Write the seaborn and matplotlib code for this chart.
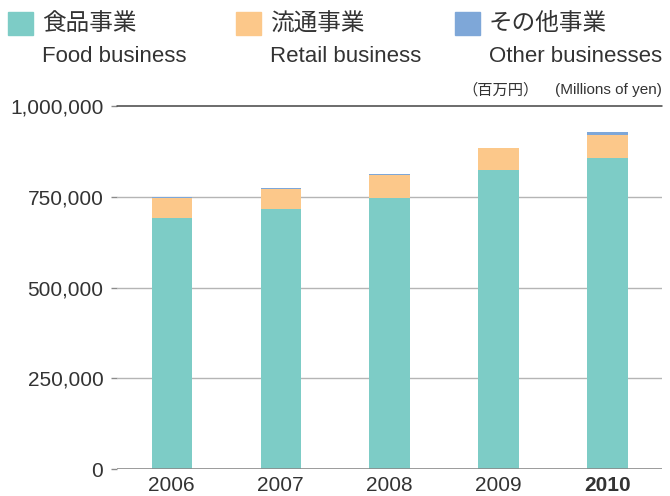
import matplotlib
matplotlib.use("Agg")
import matplotlib.pyplot as plt
import seaborn as sns
import numpy as np
import pandas as pd
from matplotlib.patches import Rectangle

# values in millions of yen
years = ["2006", "2007", "2008", "2009", "2010"]
food = [691000, 716000, 748000, 824000, 857000]
retail = [56000, 55000, 62000, 60000, 63000]
other = [2000, 3000, 4000, 1000, 8000]

legend_jp = ["食品事業", "流通事業", "その他事業"]
legend_en = ["Food business", "Retail business", "Other businesses"]
colors = ["#7dccc6", "#fcc88a", "#7ea7d8"]

sns.set_theme(style="white")
plt.rcParams["font.family"] = ["Liberation Sans", "Noto Sans CJK JP", "DejaVu Sans"]
txt = "#333333"

df = pd.DataFrame({"year": years, "food": food, "retail": retail, "other": other})
df["l1"] = df["food"]
df["l2"] = df["food"] + df["retail"]
df["l3"] = df["l2"] + df["other"]

fig = plt.figure(figsize=(6.7, 4.96), dpi=100)
ax = fig.add_axes([0.175, 0.0544, 0.813, 0.7316])

# stack by overlaying cumulative totals, tallest first
for col, c in zip(["l3", "l2", "l1"], colors[::-1]):
    sns.barplot(data=df, x="year", y=col, color=c, width=0.37,
                saturation=1, linewidth=0, ax=ax, zorder=3)

ax.set_xlim(-0.5, 4.5)
ax.set_ylim(0, 1000000)
ticks = [0, 250000, 500000, 750000, 1000000]
ax.set_yticks(ticks)
ax.set_yticklabels([f"{t:,}" for t in ticks])
for t in ticks[1:-1]:
    ax.axhline(t, color="#b5b5b5", lw=1, zorder=1)
ax.axhline(1000000, color="#444444", lw=1.1, zorder=1, clip_on=False)
ax.axhline(0, color="#8a8a8a", lw=1.2, zorder=4)
for s in ax.spines.values():
    s.set_visible(False)
ax.set_xlabel("")
ax.set_ylabel("")
ax.tick_params(axis="x", length=0, labelsize=15, colors=txt, pad=5)
ax.tick_params(axis="y", length=4, width=1, color="#8a8a8a", labelsize=15,
               labelcolor=txt, pad=6, left=True)
for lab in ax.get_xticklabels():
    if lab.get_text() == "2010":
        lab.set_fontweight("bold")

# legend drawn in figure coordinates
leg_x = [8, 236, 455]
for x, c, jp, en in zip(leg_x, colors, legend_jp, legend_en):
    fig.patches.append(Rectangle((x / 670, 1 - 35 / 496), 25 / 670, 23 / 496,
                                 transform=fig.transFigure, color=c))
    fig.text((x + 34) / 670, 1 - 24 / 496, jp, fontsize=17, va="center",
             color=txt, family=["Noto Sans CJK JP", "DejaVu Sans"])
    fig.text((x + 34) / 670, 1 - 62 / 496, en, fontsize=16, va="baseline",
             color=txt)

fig.text(539 / 670, 1 - 90 / 496, "（百万円）", fontsize=11,
         ha="right", va="center", color=txt,
         family=["Noto Sans CJK JP", "DejaVu Sans"])
fig.text(662 / 670, 1 - 90 / 496, "(Millions of yen)", fontsize=11,
         ha="right", va="center", color=txt)

fig.savefig("out.png", dpi=100)
